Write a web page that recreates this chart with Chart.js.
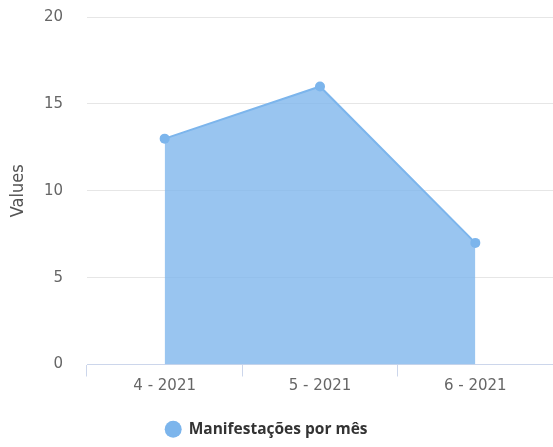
<!DOCTYPE html>
<html>
<head>
<meta charset="utf-8">
<script src="https://cdn.jsdelivr.net/npm/chart.js@4/dist/chart.umd.min.js"></script>
<style>
  html, body { margin: 0; padding: 0; background: #fff; overflow: hidden; }
  #box { width: 553px; height: 447px; }
</style>
</head>
<body>
<div id="box"><canvas id="areaChart"></canvas></div>
<script>
// Dados do gráfico
const meses = ['4 - 2021', '5 - 2021', '6 - 2021'];
const manifestacoes = [13, 16, 7];
const yTicks = [0, 5, 10, 15, 20];

const corSerie = '#7cb5ec';

// empurra a legenda um pouco para a esquerda, como no original
const legendaDeslocada = {
  id: 'legendaDeslocada',
  afterLayout(chart) {
    if (chart.legend) {
      chart.legend.left -= 19;
      chart.legend.right -= 19;
    }
  }
};

const areaChart = new Chart(document.getElementById('areaChart'), {
  type: 'line',
  data: {
    labels: meses,
    datasets: [
      {
        label: 'Manifestações por mês',
        data: manifestacoes,
        borderColor: corSerie,
        backgroundColor: 'rgba(124, 181, 236, 0.78)',
        borderWidth: 2,
        fill: 'origin',
        tension: 0,
        pointRadius: 5,
        pointBackgroundColor: corSerie,
        pointBorderWidth: 0
      }
    ]
  },
  plugins: [legendaDeslocada],
  options: {
    responsive: true,
    maintainAspectRatio: false,
    animation: false,
    layout: { autoPadding: false, padding: { top: 17, left: 8, right: -10, bottom: 0 } },
    plugins: {
      tooltip: { enabled: false },
      legend: {
        position: 'bottom',
        labels: {
          usePointStyle: true,
          pointStyle: 'circle',
          boxWidth: 37,
          boxHeight: 12,
          padding: 10,
          color: '#333333',
          font: { family: 'Open Sans', size: 15.5, weight: 'bold' }
        }
      }
    },
    scales: {
      x: {
        offset: true,
        afterFit: (axis) => { axis.height = 47; axis.paddingLeft = 0; axis.paddingRight = 0; },
        border: { display: true, color: '#ccd6eb' },
        grid: { offset: true, drawOnChartArea: false, tickLength: 12, color: '#ccd6eb' },
        ticks: { color: '#666666', padding: 1, font: { family: 'DejaVu Sans', size: 15 } }
      },
      y: {
        min: 0,
        max: 20,
        afterBuildTicks: (axis) => { axis.ticks = yTicks.map(v => ({ value: v })); },
        afterFit: (axis) => { axis.width = 79; axis.paddingTop = 0; axis.paddingBottom = 0; },
        border: { display: false },
        grid: { color: '#e6e6e6', drawTicks: false },
        ticks: { color: '#666666', padding: 24, font: { family: 'DejaVu Sans', size: 15 } },
        title: {
          display: true,
          text: 'Values',
          color: '#555555',
          padding: { top: 0, bottom: 0 },
          font: { family: 'DejaVu Sans Condensed', size: 18 }
        }
      }
    }
  }
});
</script>
</body>
</html>
